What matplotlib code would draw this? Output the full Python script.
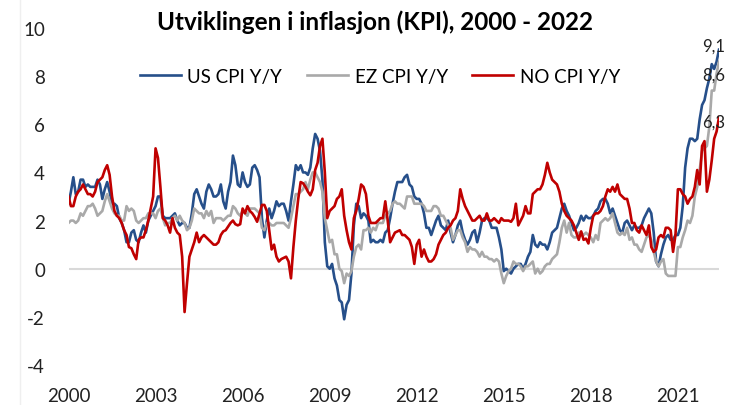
import numpy as np
import matplotlib.pyplot as plt
from matplotlib.lines import Line2D

plt.rcParams['font.family'] = ['Lato', 'DejaVu Sans']

# monthly Y/Y inflation, Jan 2000 - Jun 2022 (one row per year)
us_cpi = [
    2.7, 3.2, 3.8, 3.1, 3.2, 3.7, 3.7, 3.4, 3.5, 3.4, 3.4, 3.4,
    3.7, 3.5, 2.9, 3.3, 3.6, 3.2, 2.7, 2.7, 2.6, 2.1, 1.9, 1.6,
    1.1, 1.1, 1.5, 1.6, 1.2, 1.1, 1.5, 1.8, 1.5, 2.0, 2.2, 2.4,
    2.6, 3.0, 3.0, 2.2, 2.1, 2.1, 2.1, 2.2, 2.3, 2.0, 1.8, 1.9,
    1.9, 1.7, 1.7, 2.3, 3.1, 3.3, 3.0, 2.7, 2.5, 3.2, 3.5, 3.3,
    3.0, 3.0, 3.1, 3.5, 2.8, 2.5, 3.2, 3.6, 4.7, 4.3, 3.5, 3.4,
    4.0, 3.6, 3.4, 3.5, 4.2, 4.3, 4.1, 3.8, 2.1, 1.3, 2.0, 2.5,
    2.1, 2.4, 2.8, 2.6, 2.7, 2.7, 2.4, 2.0, 2.8, 3.5, 4.3, 4.1,
    4.3, 4.0, 4.0, 3.9, 4.2, 5.0, 5.6, 5.4, 4.9, 3.7, 1.1, 0.1,
    0.0, 0.2, -0.4, -0.7, -1.3, -1.4, -2.1, -1.5, -1.3, -0.2, 1.8, 2.7,
    2.6, 2.1, 2.3, 2.2, 2.0, 1.1, 1.2, 1.1, 1.1, 1.2, 1.1, 1.5,
    1.6, 2.1, 2.7, 3.2, 3.6, 3.6, 3.6, 3.8, 3.9, 3.5, 3.4, 3.0,
    2.9, 2.9, 2.7, 2.3, 1.7, 1.7, 1.4, 1.7, 2.0, 2.2, 1.8, 1.7,
    1.6, 2.0, 1.5, 1.1, 1.4, 1.8, 2.0, 1.5, 1.2, 1.0, 1.2, 1.5,
    1.6, 1.1, 1.5, 2.0, 2.1, 2.1, 2.0, 1.7, 1.7, 1.7, 1.3, 0.8,
    -0.1, 0.0, -0.1, -0.2, 0.0, 0.1, 0.2, 0.2, 0.0, 0.2, 0.5, 0.7,
    1.4, 1.0, 0.9, 1.1, 1.0, 1.0, 0.8, 1.1, 1.5, 1.6, 1.7, 2.1,
    2.5, 2.7, 2.4, 2.2, 1.9, 1.6, 1.7, 1.9, 2.2, 2.0, 2.2, 2.1,
    2.1, 2.2, 2.4, 2.5, 2.8, 2.9, 2.9, 2.7, 2.3, 2.5, 2.2, 1.9,
    1.6, 1.5, 1.9, 2.0, 1.8, 1.6, 1.8, 1.7, 1.7, 1.8, 2.1, 2.3,
    2.5, 2.3, 1.5, 0.3, 0.1, 0.6, 1.0, 1.3, 1.4, 1.2, 1.2, 1.4,
    1.4, 1.7, 2.6, 4.2, 5.0, 5.4, 5.4, 5.3, 5.4, 6.2, 6.8, 7.0,
    7.5, 7.9, 8.5, 8.3, 8.6, 9.1,
]

ez_cpi = [
    1.9, 2.0, 2.0, 1.9, 2.0, 2.3, 2.2, 2.4, 2.6, 2.6, 2.7, 2.5,
    2.2, 2.3, 2.4, 2.8, 3.1, 2.8, 2.5, 2.3, 2.2, 2.2, 2.0, 2.0,
    2.6, 2.4, 2.5, 2.4, 2.0, 1.9, 2.0, 2.1, 2.1, 2.3, 2.3, 2.3,
    2.1, 2.4, 2.5, 2.1, 1.8, 1.9, 1.9, 2.1, 2.2, 2.0, 2.2, 2.0,
    1.9, 1.6, 1.7, 2.0, 2.5, 2.4, 2.3, 2.3, 2.1, 2.4, 2.2, 2.4,
    1.9, 2.1, 2.1, 2.1, 2.0, 2.1, 2.2, 2.2, 2.6, 2.5, 2.3, 2.2,
    2.4, 2.3, 2.2, 2.5, 2.5, 2.5, 2.4, 2.3, 1.7, 1.6, 1.9, 1.9,
    1.8, 1.8, 1.9, 1.9, 1.9, 1.9, 1.8, 1.7, 2.1, 2.6, 3.1, 3.1,
    3.2, 3.3, 3.6, 3.3, 3.7, 4.0, 4.0, 3.8, 3.6, 3.2, 2.1, 1.6,
    1.1, 1.2, 0.6, 0.6, 0.0, -0.1, -0.6, -0.2, -0.3, -0.1, 0.5, 0.9,
    1.0, 0.8, 1.6, 1.6, 1.7, 1.5, 1.7, 1.6, 1.9, 1.9, 1.9, 2.2,
    2.3, 2.4, 2.7, 2.8, 2.7, 2.7, 2.6, 2.5, 3.0, 3.0, 3.0, 2.7,
    2.7, 2.7, 2.7, 2.6, 2.4, 2.4, 2.4, 2.6, 2.6, 2.5, 2.2, 2.2,
    2.0, 1.8, 1.7, 1.2, 1.4, 1.6, 1.6, 1.3, 1.1, 0.7, 0.9, 0.8,
    0.8, 0.7, 0.5, 0.7, 0.5, 0.5, 0.4, 0.4, 0.3, 0.4, 0.3, -0.2,
    -0.6, -0.3, -0.1, 0.0, 0.3, 0.2, 0.2, 0.1, -0.1, 0.1, 0.1, 0.2,
    0.3, -0.2, 0.0, -0.2, -0.1, 0.1, 0.2, 0.2, 0.4, 0.5, 0.6, 1.1,
    1.7, 2.0, 1.5, 1.9, 1.4, 1.3, 1.3, 1.5, 1.5, 1.4, 1.5, 1.4,
    1.3, 1.1, 1.4, 1.2, 1.9, 2.0, 2.1, 2.0, 2.1, 2.3, 1.9, 1.5,
    1.4, 1.5, 1.4, 1.7, 1.2, 1.3, 1.0, 1.0, 0.8, 0.7, 1.0, 1.3,
    1.4, 1.2, 0.7, 0.3, 0.1, 0.3, 0.4, -0.2, -0.3, -0.3, -0.3, -0.3,
    0.9, 0.9, 1.3, 1.6, 2.0, 1.9, 2.2, 3.0, 3.4, 4.1, 4.9, 5.0,
    5.1, 5.9, 7.4, 7.4, 8.1, 8.6,
]

no_cpi = [
    3.0, 2.6, 2.6, 3.0, 3.2, 3.3, 3.5, 3.3, 3.1, 3.1, 3.0, 3.2,
    3.6, 3.7, 3.8, 4.1, 4.3, 3.9, 3.0, 2.4, 2.2, 2.1, 1.9, 1.6,
    1.4, 0.9, 0.85, 0.6, 0.4, 1.2, 1.3, 1.3, 1.6, 2.0, 2.5, 3.0,
    5.0, 4.6, 3.4, 2.1, 2.0, 1.8, 1.5, 2.1, 1.7, 1.5, 1.4, 0.5,
    -1.8, -0.6, 0.5, 0.8, 1.1, 1.5, 1.1, 1.3, 1.4, 1.3, 1.2, 1.1,
    1.0, 1.0, 1.1, 1.4, 1.55, 1.6, 1.75, 1.9, 2.0, 1.85, 1.8, 1.85,
    2.5, 2.3, 2.6, 2.4, 2.3, 2.15, 1.95, 2.3, 2.65, 2.65, 2.4, 1.6,
    0.8, 1.0, 0.5, 0.3, 0.4, 0.45, 0.5, 0.3, -0.4, 0.9, 2.0, 2.9,
    3.6, 3.55, 3.4, 3.2, 3.05, 3.3, 4.1, 4.4, 5.1, 5.4, 4.0, 2.1,
    2.4, 2.5, 2.6, 2.9, 3.0, 3.3, 2.2, 1.6, 1.1, 0.8, 2.1, 2.4,
    2.9, 3.5, 3.4, 3.1, 2.2, 1.9, 1.9, 1.9, 2.0, 2.1, 2.1, 2.8,
    2.0, 1.1, 1.3, 1.5, 1.55, 1.6, 1.4, 1.4, 1.3, 1.2, 0.9, 0.2,
    1.0, 1.2, 0.5, 0.8, 0.5, 0.3, 0.3, 0.4, 0.6, 1.0, 1.2, 1.4,
    1.5, 1.7, 1.8, 2.0, 2.1, 2.4, 3.3, 2.9, 2.6, 2.4, 2.2, 2.0,
    2.0, 2.1, 2.2, 2.0, 2.0, 2.3, 2.0, 2.0, 2.1, 2.0, 1.9, 2.1,
    2.0, 2.0, 2.0, 1.95, 2.1, 2.7, 1.8, 2.0, 2.2, 2.6, 2.3, 2.3,
    3.1, 3.2, 3.3, 3.3, 3.5, 3.9, 4.4, 4.0, 3.7, 3.6, 3.5, 3.2,
    2.7, 2.4, 2.2, 2.1, 2.0, 1.8, 1.5, 1.2, 1.55, 1.2, 1.25, 1.05,
    1.7, 2.2, 2.3, 2.3, 2.4, 2.6, 3.0, 3.3, 3.2, 3.4, 3.2, 3.5,
    3.1, 3.0, 2.9, 2.9, 2.5, 1.9, 1.9, 1.6, 1.5, 1.8, 1.6, 1.4,
    1.8, 0.9, 0.7, 0.8, 1.3, 1.4, 1.3, 1.7, 1.7, 1.6, 0.7, 1.4,
    3.3, 3.3, 3.1, 3.0, 2.7, 2.9, 3.0, 3.4, 4.1, 3.5, 5.1, 5.3,
    3.2, 3.7, 4.5, 5.4, 5.7, 6.3,
]

series_names = ['US CPI Y/Y', 'EZ CPI Y/Y', 'NO CPI Y/Y']
series_colors = ['#264F8A', '#A9A9A9', '#C00000']
year_labels = ['2000', '2003', '2006', '2009', '2012', '2015', '2018', '2021']
# small vertical nudges (points) so the end labels don't collide
label_dy = [3, -9, -3]

W, H = 740, 406
fig = plt.figure(figsize=(W / 100, H / 100), dpi=100)
ax = fig.add_axes([68.5 / W, 40 / H, 650.5 / W, 337 / H])

months = np.arange(len(us_cpi))
for vals, name, col, dy in zip([us_cpi, ez_cpi, no_cpi], series_names, series_colors, label_dy):
    ax.plot(months, vals, color=col, lw=1.9, label=name, zorder=3, solid_joinstyle='round')
    last = vals[-1]
    ax.annotate(f'{last:.1f}'.replace('.', ','), (months[-1], last),
                xytext=(-4, dy), textcoords='offset points',
                ha='center', va='center', fontsize=12, color='#222222', zorder=5)

ax.axhline(0, color='#D9D9D9', lw=1.5, zorder=1)

ax.set_xlim(0, len(us_cpi) - 1)
ax.set_ylim(-4, 10)
ax.set_yticks(range(-4, 11, 2))
ax.set_yticklabels([str(v) for v in range(-4, 11, 2)])
ax.set_xticks(np.arange(len(year_labels)) * 36)
ax.set_xticklabels(year_labels)
ax.tick_params(length=0, labelsize=13.5, colors='#222222')
ax.tick_params(axis='y', pad=17)
ax.tick_params(axis='x', pad=16)
for s in ax.spines.values():
    s.set_visible(False)

fig.legend(loc='center', bbox_to_anchor=(380 / W, 1 - 77 / H), ncol=3, frameon=False,
           fontsize=13.5, handlelength=2.2, handletextpad=0.35, columnspacing=1.3)

fig.text(375 / W, 1 - 22 / H, 'Utviklingen i inflasjon (KPI), 2000 - 2022',
         ha='center', va='center', fontsize=17.5, fontweight='bold')

fig.add_artist(Line2D([20 / W, 20 / W], [0, 1], color='#EFEFEF', lw=1))

fig.savefig('out.png', dpi=100)
